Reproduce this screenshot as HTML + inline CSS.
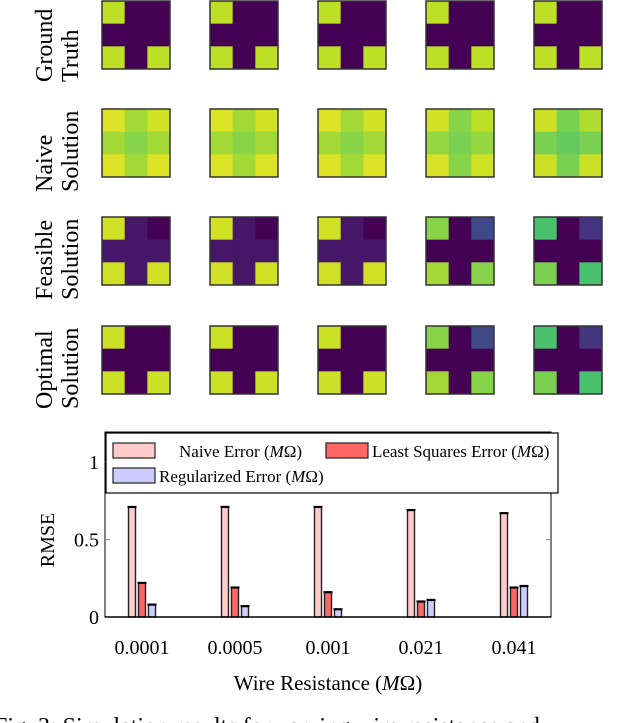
<!DOCTYPE html>
<html><head><meta charset="utf-8"><style>
body{margin:0;background:#fff;}
svg{display:block;font-family:"Liberation Serif",serif;}
</style></head><body>
<svg id="fig" width="640" height="723" viewBox="0 0 640 723">
<g id="maps"></g>
<g id="labels">
 <text transform="translate(52,82) rotate(-90)" text-anchor="start" font-size="24"><tspan x="0" y="0">Ground</tspan><tspan x="0" y="26">Truth</tspan></text>
 <text transform="translate(52,192) rotate(-90)" text-anchor="start" font-size="24"><tspan x="0" y="0">Naive</tspan><tspan x="0" y="26">Solution</tspan></text>
 <text transform="translate(52,300) rotate(-90)" text-anchor="start" font-size="24"><tspan x="0" y="0">Feasible</tspan><tspan x="0" y="26">Solution</tspan></text>
 <text transform="translate(52,409) rotate(-90)" text-anchor="start" font-size="24"><tspan x="0" y="0">Optimal</tspan><tspan x="0" y="26">Solution</tspan></text>
</g>
<g id="chart"></g>
<text x="328" y="690" text-anchor="middle" font-size="21">Wire Resistance (<tspan font-style="italic">M</tspan>Ω)</text>
<text transform="translate(54,540) rotate(-90)" text-anchor="middle" font-size="20">RMSE</text>
<text x="-6" y="734" font-size="24">Fig. 3:  Simulation results for varying wire resistance and</text>
</svg>
<script>
const NS='http://www.w3.org/2000/svg';
const gtVals=[0.9,0,0,0,0,0,0.9,0,0.9];
const naiveVals=[[0.95,0.86,0.93,0.86,0.82,0.86,0.95,0.86,0.95],[0.95,0.86,0.93,0.86,0.82,0.86,0.95,0.86,0.95],[0.95,0.86,0.93,0.86,0.82,0.86,0.95,0.86,0.95],[0.93,0.82,0.9,0.84,0.8,0.84,0.94,0.82,0.93],[0.92,0.8,0.88,0.8,0.76,0.8,0.92,0.8,0.92]];
const feasibleVals=[[0.93,0.06,0,0.06,0.06,0.06,0.93,0.06,0.93],[0.93,0.06,0,0.06,0.06,0.06,0.93,0.06,0.93],[0.93,0.06,0,0.06,0.06,0.06,0.93,0.06,0.93],[0.82,0,0.22,0,0,0,0.86,0,0.82],[0.71,0,0.15,0,0,0,0.8,0,0.71]];
const optimalVals=[[0.92,0,0,0,0,0,0.92,0,0.92],[0.92,0,0,0,0,0,0.92,0,0.92],[0.92,0,0,0,0,0,0.92,0,0.92],[0.82,0,0.22,0,0,0,0.86,0,0.82],[0.71,0,0.15,0,0,0,0.8,0,0.71]];
const categories=['0.0001','0.0005','0.001','0.021','0.041'];
const naiveErr=[0.71,0.71,0.71,0.69,0.67];
const lsErr=[0.22,0.19,0.16,0.10,0.19];
const regErr=[0.08,0.07,0.05,0.11,0.20];
const yTicks=[0,0.5,1];
const yTickLabels=['0','0.5','1'];

const vir=['#440154','#482475','#414487','#355f8d','#2a788e','#21918c','#22a884','#44bf70','#7ad151','#bddf26','#fde725'];
function hx(c){return [1,3,5].map(i=>parseInt(c.substr(i,2),16));}
function viridis(v){v=Math.max(0,Math.min(1,v));const p=v*10,i=Math.min(9,Math.floor(p)),f=p-i;const a=hx(vir[i]),b=hx(vir[i+1]);return 'rgb('+a.map((x,k)=>Math.round(x+(b[k]-x)*f)).join(',')+')';}
function mk(t,at,parent){const e=document.createElementNS(NS,t);for(const k in at)e.setAttribute(k,at[k]);parent.appendChild(e);return e;}

const maps=document.getElementById('maps');
const rowY=[1,109,217,326], colX=[102,210,318,426,534], S=68;
const rows=[[gtVals,gtVals,gtVals,gtVals,gtVals],naiveVals,feasibleVals,optimalVals];
const rowNames=['ground-truth','naive','feasible','optimal'];
rows.forEach((r,ri)=>r.forEach((vals,ci)=>{
  const g=mk('g',{},maps);
  
  
  vals.forEach((v,k)=>{
    const c=mk('rect',{x:colX[ci]+(k%3)*S/3,y:rowY[ri]+Math.floor(k/3)*S/3,width:S/3+0.3,height:S/3+0.3,fill:viridis(v)},g);
    
    
  });
  mk('rect',{x:colX[ci],y:rowY[ri],width:S,height:S,fill:'none',stroke:'#333',"stroke-width":1.5},g);
}));

const chart=document.getElementById('chart');
const X0=105,X1=551,Y0=617,PX=155;
const yScale=v=>Y0-v*PX;
const xCenter=i=>142+i*93;
mk('rect',{x:X0,y:432,width:X1-X0,height:Y0-432,fill:'none',stroke:'#000','stroke-width':1},chart);
yTicks.forEach((t,i)=>{
  mk('line',{x1:X0,x2:X0+5,y1:yScale(t),y2:yScale(t),stroke:'#888'},chart);
  mk('line',{x1:X1,x2:X1-5,y1:yScale(t),y2:yScale(t),stroke:'#888'},chart);
  const tx=mk('text',{x:X0-6,y:yScale(t)+7,'text-anchor':'end','font-size':20},chart);
  tx.textContent=yTickLabels[i];
  
  
});
categories.forEach((c,i)=>{
  const tx=mk('text',{x:xCenter(i),y:654,'text-anchor':'middle','font-size':20},chart);
  tx.textContent=c;
  
  
});
const series=[[naiveErr,'#ffcccc',-10,'naive-bar'],[lsErr,'#ff6666',0,'least-squares-bar'],[regErr,'#ccccff',10,'regularized-bar']];
series.forEach(([vals,fill,off,name])=>vals.forEach((v,i)=>{
  const x=xCenter(i)+off-3.5;
  const b=mk('rect',{x:x,y:yScale(v),width:7,height:Y0-yScale(v),fill:fill,stroke:'#222','stroke-width':1.4},chart);
  
  
  mk('line',{x1:x-1,x2:x+8,y1:yScale(v),y2:yScale(v),stroke:'#000','stroke-width':2.2},chart);
}));
mk('line',{x1:X0,x2:X1,y1:Y0,y2:Y0,stroke:'#000','stroke-width':1.5},chart);
const lg=mk('g',{},chart);


mk('rect',{x:106,y:433,width:452,height:60,fill:'#fff',stroke:'#000','stroke-width':1.2},lg);
const le=[[113,443,'#ffcccc',179,'Naive Error ('],[326,443,'#ff6666',372,'Least Squares Error ('],[113,468,'#ccccff',159,'Regularized Error (']];
le.forEach(([sx,sy,f,tx,t])=>{
  const e=mk('g',{},lg);
  
  
  mk('rect',{x:sx,y:sy,width:42,height:15,fill:f,stroke:'#222','stroke-width':1.2},e);
  const tt=mk('text',{x:tx,y:sy+14,'font-size':17},e);
  tt.innerHTML=t+'<tspan font-style="italic">M</tspan>Ω)';
});
</script>
</body></html>
